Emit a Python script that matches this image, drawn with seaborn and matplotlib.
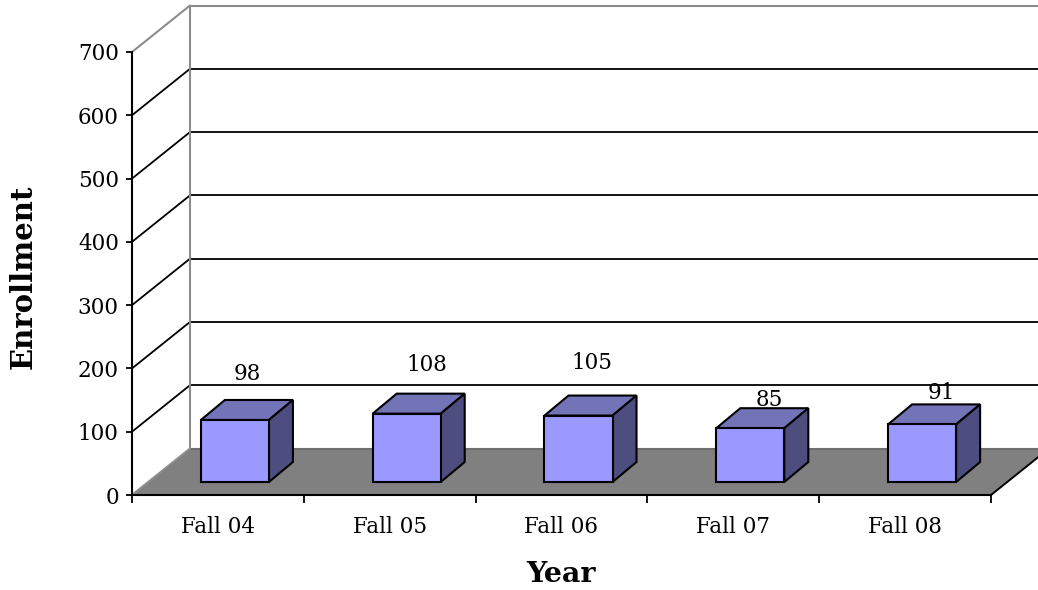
import matplotlib
matplotlib.use("Agg")
import matplotlib.pyplot as plt
from matplotlib.patches import Polygon
import pandas as pd
import seaborn as sns

years = ['Fall 04', 'Fall 05', 'Fall 06', 'Fall 07', 'Fall 08']
enrollment = [98, 108, 105, 85, 91]
y_ticks = [0, 100, 200, 300, 400, 500, 600, 700]
wall_lines = [100, 200, 300, 400, 500, 600]

sns.set_theme(style='white')
plt.rcParams['font.family'] = ['DejaVu Serif']

W, H = 1038, 590
fig = plt.figure(figsize=(W / 100, H / 100), dpi=100)
ax = fig.add_axes([132 / W, 1 - 495 / H, (991 - 132) / W, (495 - 52) / H])

df = pd.DataFrame({'Year': years, 'Enrollment': enrollment})
sns.barplot(data=df, x='Year', y='Enrollment', color='#9999FF', saturation=1,
            width=0.396, edgecolor='black', linewidth=1.5, zorder=5, ax=ax)
ax.set_xlim(-0.5, 4.5)
ax.set_ylim(0, 700)

# pixels to data units, the 3d look is all offsets
px_x = 5 / (991 - 132)
px_y = 700 / (495 - 52)
wall_dx, wall_dy = 58 * px_x, 46.5 * px_y
bar_dx, bar_dy = 24 * px_x, 20 * px_y

# floor
floor = Polygon([(-0.5, 0), (-0.5 + wall_dx, wall_dy), (4.5 + wall_dx, wall_dy), (4.5, 0)],
                facecolor='#808080', edgecolor='none', clip_on=False, zorder=1.5)
ax.add_patch(floor)
ax.plot([-0.5 + wall_dx, 4.5 + wall_dx], [wall_dy, wall_dy], color='#6e6e6e', lw=1.5, clip_on=False, zorder=1.6)
ax.plot([-0.5, -0.5 + wall_dx], [0, wall_dy], color='#8c8c8c', lw=1.5, clip_on=False, zorder=1.6)
ax.plot([4.5, 4.5 + wall_dx], [0, wall_dy], color='black', lw=1.4, clip_on=False, zorder=1.6)

# walls
for v in wall_lines:
    ax.plot([-0.5, -0.5 + wall_dx], [v, v + wall_dy], color='black', lw=1.3, clip_on=False, zorder=1)
    ax.plot([-0.5 + wall_dx, 4.5 + wall_dx], [v + wall_dy, v + wall_dy], color='black', lw=1.3, clip_on=False, zorder=1)
ax.plot([-0.5, -0.5 + wall_dx, -0.5 + wall_dx], [700, 700 + wall_dy, wall_dy],
        color='#8c8c8c', lw=1.5, clip_on=False, zorder=1.2)
ax.plot([-0.5 + wall_dx, 4.5 + wall_dx], [700 + wall_dy, 700 + wall_dy],
        color='#8c8c8c', lw=1.5, clip_on=False, zorder=1.2)

# move the bars back off the front edge and give them a top and side
for bar in list(ax.patches):
    if not hasattr(bar, 'get_width'):
        continue
    bar.set_x(bar.get_x() + 17 * px_x)
    bar.set_y(13 * px_y)
    x, y, w, h = bar.get_x(), bar.get_y(), bar.get_width(), bar.get_height()
    top = [(x, y + h), (x + w, y + h), (x + w + bar_dx, y + h + bar_dy), (x + bar_dx, y + h + bar_dy)]
    side = [(x + w, y), (x + w + bar_dx, y + bar_dy), (x + w + bar_dx, y + h + bar_dy), (x + w, y + h)]
    ax.add_patch(Polygon(top, facecolor='#7373B8', edgecolor='black', lw=1.5, joinstyle='miter', zorder=4))
    ax.add_patch(Polygon(side, facecolor='#4D4D80', edgecolor='black', lw=1.5, joinstyle='miter', zorder=4))

# value labels sit a bit unevenly in the original
label_off = [(29, 59), (37, 62), (30, 66), (36, 41), (36, 44)]
for i, v in enumerate(enrollment):
    ax.annotate(str(v), (i, v), xytext=label_off[i], textcoords='offset pixels',
                ha='center', va='center', fontsize=15.5, color='black', zorder=6)

sns.despine(ax=ax)
for s in ['left', 'bottom']:
    ax.spines[s].set_color('black')
    ax.spines[s].set_linewidth(1.5)
    ax.spines[s].set_zorder(2)

ax.set_yticks(y_ticks)
ax.set_xticks([-0.5, 0.5, 1.5, 2.5, 3.5, 4.5], labels=[''] * 6)
ax.set_xticks(range(5), labels=years, minor=True)
ax.tick_params(axis='y', which='major', left=True, length=4.5, width=1.3, color='black', pad=5,
               labelsize=15.5, labelcolor='black')
ax.tick_params(axis='x', which='major', bottom=True, length=5.5, width=1.3, color='black')
ax.tick_params(axis='x', which='minor', bottom=False, length=0, pad=15, labelsize=15.5, labelcolor='black')

ax.set_xlabel('Year', fontweight='bold', fontsize=20.5, color='black')
ax.set_ylabel('Enrollment', fontweight='bold', fontsize=21, color='black')
ax.xaxis.set_label_coords((561 - 132) / (991 - 132), -(574 - 495) / (495 - 52))
ax.xaxis.label.set_va('center')
ax.yaxis.set_label_coords(-(132 - 23) / (991 - 132), (495 - 277) / (495 - 52))
ax.yaxis.label.set_va('center')

plt.savefig('out.png', dpi=100)
plt.close()
